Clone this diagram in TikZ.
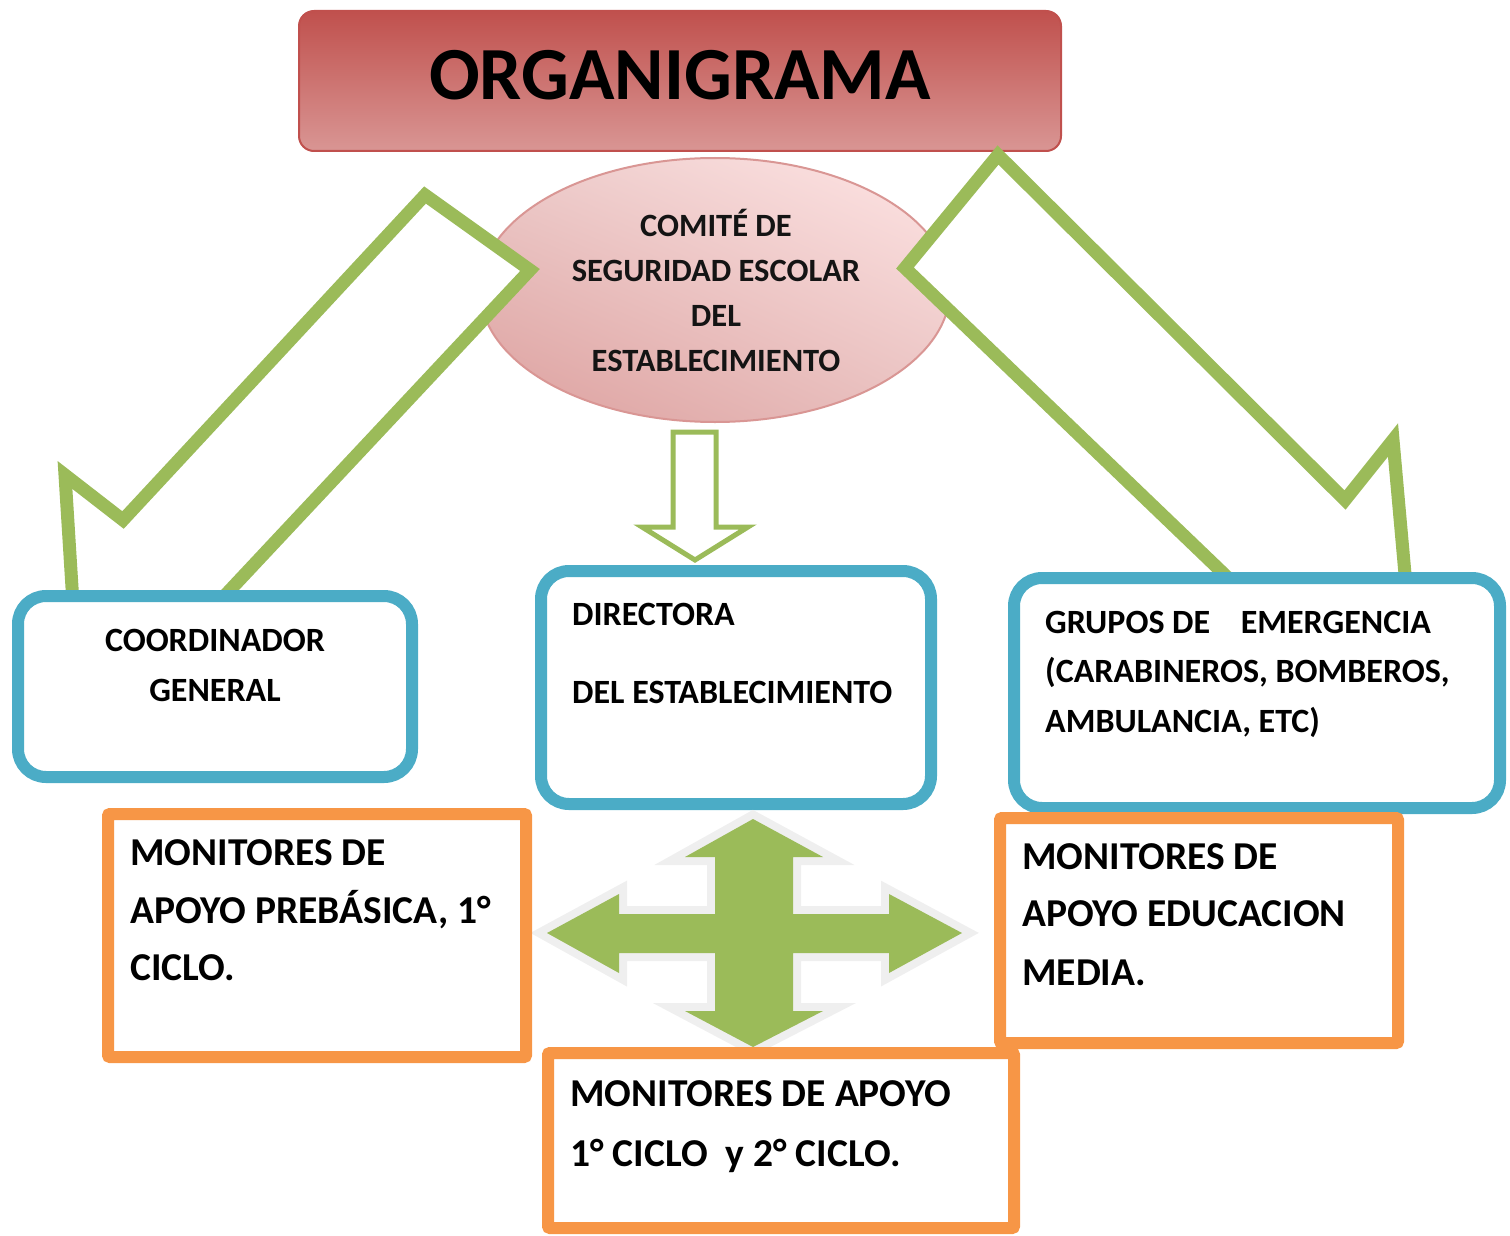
\documentclass[tikz,border=0pt]{standalone}
\usepackage{fontspec}
\setmainfont{Carlito}
\usetikzlibrary{shapes.geometric,shadings}
\definecolor{tgreen}{HTML}{9BBB59}
\definecolor{tblue}{HTML}{4BACC6}
\definecolor{torange}{HTML}{F79646}
\definecolor{tred}{HTML}{C0504D}
\definecolor{tredlight}{HTML}{D99694}
\definecolor{glow}{HTML}{EFEFEF}
\tikzset{
  bluebox/.style={draw=tblue, line width=12pt, fill=white, rounded corners=28pt, inner sep=0pt},
  orangebox/.style={draw=torange, line width=12pt, fill=white, rounded corners=2pt, inner sep=0pt},
  bigarrow/.style={draw=tgreen, line width=13pt, fill=white, line join=miter},
  smallarrow/.style={draw=tgreen, line width=5pt, fill=white, line join=miter},
  lbl/.style={inner sep=0pt, font=\bfseries\fontsize{#1}{#1}\selectfont, text=black},
}
\begin{document}
\begin{tikzpicture}[x=1pt,y=-1pt]
\useasboundingbox (0,0) rectangle (1510,1236);
% title
\node[draw=tred, line width=2pt, rounded corners=15pt, top color=tred, bottom color=tredlight,
      minimum width=762pt, minimum height=140pt, inner sep=0pt] (title) at (680,81) {};
\node[lbl=75, anchor=base] (titletext) at (680,100) {ORGANIGRAMA};
% ellipse
\node[draw=tredlight, line width=2pt, ellipse, minimum width=470pt, minimum height=264pt, inner sep=0pt,
      upper right={red!10}, upper left={tred!30}, lower left={tred!55}, lower right={tred!35}] (comite) at (715,290) {};
% green arrows
\draw[bigarrow] (425,195) -- (530,270) -- (82,748) -- (65,475) -- (123,520) -- cycle;
\draw[bigarrow] (998,155) -- (1345,500) -- (1393,440) -- (1422,764) -- (905,268) -- cycle;
\draw[smallarrow] (673,432) -- (716,432) -- (716,527) -- (748,527) -- (695,560) -- (642,527) -- (673,527) -- cycle;
% ellipse text
\node[lbl=32.5, anchor=base, text=black!92] (c1) at (716,236) {COMITÉ DE};
\node[lbl=32.5, anchor=base, text=black!92] (c2) at (716,281) {SEGURIDAD ESCOLAR};
\node[lbl=32.5, anchor=base, text=black!92] (c3) at (716,326) {DEL};
\node[lbl=32.5, anchor=base, text=black!92] (c4) at (716,371) {ESTABLECIMIENTO};
% blue boxes
\node[bluebox, minimum width=394pt, minimum height=181pt] (coord) at (215,686.5) {};
\node[bluebox, minimum width=390pt, minimum height=233pt] (direc) at (736,687.5) {};
\node[bluebox, minimum width=486pt, minimum height=230pt] (grupos) at (1257,693) {};
\node[lbl=34, anchor=base] (co1) at (215,651) {COORDINADOR};
\node[lbl=34, anchor=base] (co2) at (215,701) {GENERAL};
\node[lbl=34, anchor=base west] (d1) at (572,625) {DIRECTORA};
\node[lbl=34, anchor=base west] (d2) at (572,703) {DEL ESTABLECIMIENTO};
\node[lbl=34, anchor=base west] (g1) at (1045,633) {GRUPOS DE\hspace{0.9em}EMERGENCIA};
\node[lbl=34, anchor=base west] (g2) at (1045,682) {(CARABINEROS, BOMBEROS,};
\node[lbl=34, anchor=base west] (g3) at (1045,732) {AMBULANCIA, ETC)};
% cross arrow
\path[draw=glow, line width=16pt, fill=glow, line join=miter] (753,819) -- (823,857) -- (793,857) -- (793,914) -- (889,914) -- (889,894) -- (962,933) -- (889,973) -- (889,953) -- (793,953) -- (793,1011) -- (823,1011) -- (753,1047) -- (685,1011) -- (715,1011) -- (715,953) -- (619,953) -- (619,973) -- (547,933) -- (619,894) -- (619,914) -- (715,914) -- (715,857) -- (685,857) -- cycle;
\fill[tgreen] (753,819) -- (823,857) -- (793,857) -- (793,914) -- (889,914) -- (889,894) -- (962,933) -- (889,973) -- (889,953) -- (793,953) -- (793,1011) -- (823,1011) -- (753,1047) -- (685,1011) -- (715,1011) -- (715,953) -- (619,953) -- (619,973) -- (547,933) -- (619,894) -- (619,914) -- (715,914) -- (715,857) -- (685,857) -- cycle;
% orange boxes
\node[orangebox, minimum width=418pt, minimum height=243pt] (mon1) at (317,935.5) {};
\node[orangebox, minimum width=398pt, minimum height=225pt] (mon2) at (1199,930.5) {};
\node[orangebox, minimum width=466pt, minimum height=175pt] (mon3) at (781,1140.5) {};
\node[lbl=39.5, anchor=base west] (m11) at (130,865) {MONITORES DE};
\node[lbl=39.5, anchor=base west] (m12) at (130,923) {APOYO PREBÁSICA, 1°};
\node[lbl=39.5, anchor=base west] (m13) at (130,980) {CICLO.};
\node[lbl=39.5, anchor=base west] (m21) at (1022,869) {MONITORES DE};
\node[lbl=39.5, anchor=base west] (m22) at (1022,926) {APOYO EDUCACION};
\node[lbl=39.5, anchor=base west] (m23) at (1022,985) {MEDIA.};
\node[lbl=39.5, anchor=base west] (m31) at (570,1106) {MONITORES DE APOYO};
\node[lbl=39.5, anchor=base west] (m32) at (570,1166) {1° CICLO\ \ y 2° CICLO.};
\end{tikzpicture}
\end{document}
